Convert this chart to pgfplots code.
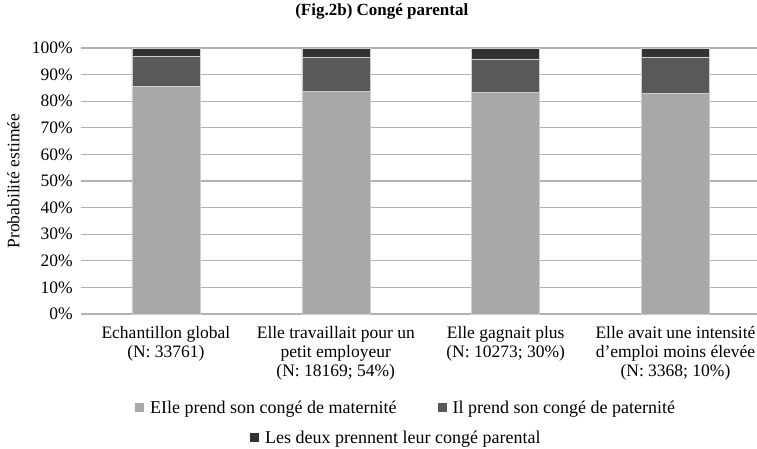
\documentclass[border=0pt]{standalone}
\usepackage{pgfplots}
\pgfplotsset{compat=1.18}
\usepackage{fontspec}
\setmainfont{Liberation Serif}
\definecolor{cA}{RGB}{167,168,170}
\definecolor{cB}{RGB}{88,89,91}
\definecolor{cC}{RGB}{51,49,50}
\definecolor{gridc}{RGB}{178,178,182}
\definecolor{edgec}{RGB}{205,205,207}
\pgfplotsset{sqlegend/.style={legend image code/.code={\path[##1,draw=none] (0pt,-4.5pt) rectangle (9pt,4.5pt);}}}
\begin{document}
\begin{tikzpicture}[x=1pt,y=1pt]
\path[use as bounding box] (0,0) rectangle (757,448);
\begin{axis}[
  at={(81pt,134pt)}, anchor=south west,
  scale only axis, width=676pt, height=266pt,
  ybar stacked, bar width=68pt,
  xmin=-0.5, xmax=3.48, ymin=0, ymax=100,
  axis line style={draw=none},
  major tick length=0pt,
  tick style={draw=none},
  ytick={0,10,20,30,40,50,60,70,80,90,100},
  yticklabels={0\%,10\%,20\%,30\%,40\%,50\%,60\%,70\%,80\%,90\%,100\%},
  xtick={0,1,2,3},
  xticklabels={{Echantillon global\\(N: 33761)},{Elle travaillait pour un\\petit employeur\\(N: 18169; 54\%)},{Elle gagnait plus\\(N: 10273; 30\%)},{Elle avait une intensité\\d’emploi moins élevée\\(N: 3368; 10\%)}},
  ymajorgrids,
  major grid style={draw=gridc, line width=1.3pt},
  yticklabel style={font=\fontsize{17.5}{20}\selectfont, anchor=east, inner sep=0pt, xshift=-8pt},
  xticklabel style={font=\fontsize{17.5}{19}\selectfont, align=center, anchor=north, inner sep=0pt, yshift=-12pt},
  title={(Fig.2b) Congé parental},
  title style={at={(axis description cs:0.445,1.1015)}, anchor=base, font=\bfseries\fontsize{17}{19}\selectfont, inner sep=0pt},
  ylabel={Probabilité estimée},
  ylabel style={at={(axis description cs:-0.1,0.5)}, anchor=center, font=\fontsize{17.5}{20}\selectfont},
  legend style={draw=none, fill=none, at={(0.0799,-0.353)}, anchor=west, inner sep=0pt, legend columns=2,
    font=\fontsize{18}{20}\selectfont, nodes={inner sep=0pt},
    /tikz/every odd column/.append style={column sep=6pt},
    /tikz/every even column/.append style={column sep=41pt}},
]
\addplot[fill=cA, draw=edgec, line width=0.5pt, sqlegend] coordinates {(0,85.7) (1,83.7) (2,83.4) (3,82.9)};
\addplot[fill=cB, draw=edgec, line width=0.5pt, sqlegend] coordinates {(0,11.1) (1,12.7) (2,12.5) (3,13.8)};
\addplot[fill=cC, draw=edgec, line width=0.5pt, sqlegend] coordinates {(0,3.2) (1,3.6) (2,4.1) (3,3.3)};
\legend{EIle prend son congé de maternité, Il prend son congé de paternité}
\end{axis}
\begin{axis}[
  at={(81pt,134pt)}, anchor=south west,
  scale only axis, width=676pt, height=266pt,
  hide axis, xmin=0, xmax=1, ymin=0, ymax=1,
  legend style={draw=none, fill=none, at={(0.25,-0.466)}, anchor=west, inner sep=0pt,
    font=\fontsize{18}{20}\selectfont, nodes={inner sep=0pt},
    /tikz/every odd column/.append style={column sep=6pt}},
]
\addplot[draw=none, forget plot] coordinates {(0,0)};
\addlegendimage{sqlegend, fill=cC, draw=none}
\addlegendentry{Les deux prennent leur congé parental}
\end{axis}
\end{tikzpicture}
\end{document}
